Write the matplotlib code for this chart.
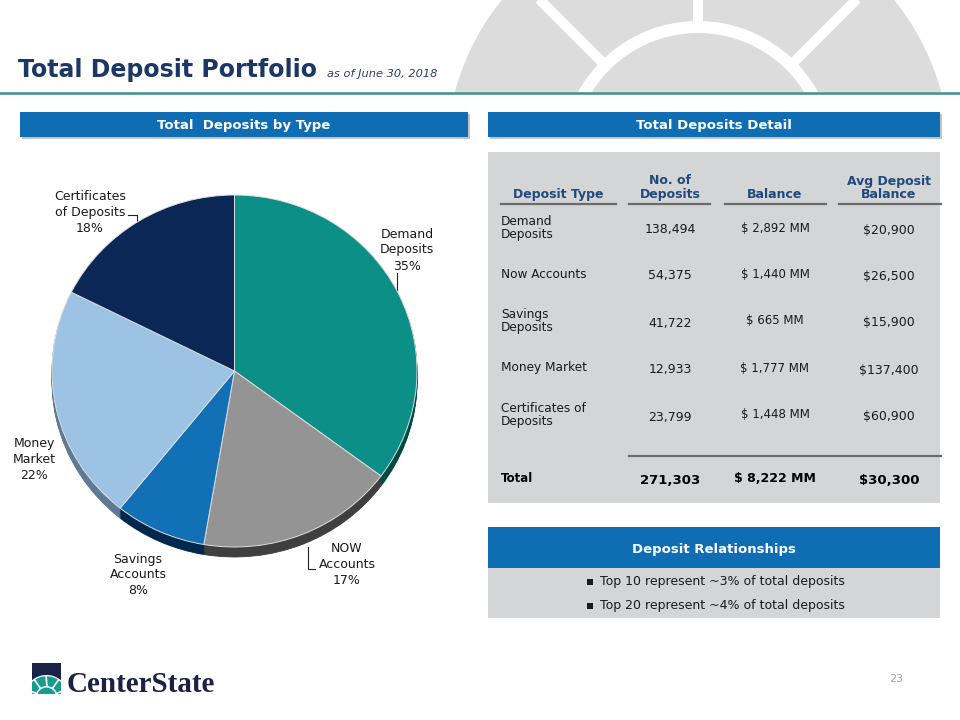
import matplotlib
matplotlib.use('Agg')
import matplotlib.pyplot as plt
from matplotlib.patches import Rectangle, Circle, Wedge
import numpy as np

W, H = 960, 720
plt.rcParams['font.family'] = ['DejaVu Sans']

# ---------------- data ----------------
pie_labels = ['Demand\nDeposits', 'NOW\nAccounts', 'Savings\nAccounts', 'Money\nMarket', 'Certificates\nof Deposits']
pie_pcts = [35, 17, 8, 22, 18]
balances_mm = [2892, 1440, 665, 1777, 1448]
pie_colors = ['#0b8f87', '#949494', '#1170b6', '#9cc3e3', '#0b2755']
side_colors = ['#004a45', '#3f3f3f', '#00284d', '#5f7a93', '#061634']

row_labels = ['Demand\nDeposits', 'Now Accounts', 'Savings\nDeposits', 'Money Market', 'Certificates of\nDeposits']
no_deposits = [138494, 54375, 41722, 12933, 23799]
avg_balance = [20900, 26500, 15900, 137400, 60900]
total_no = 271303
total_balance = 8222
total_avg = 30300
col_headers = ['Deposit Type', 'No. of\nDeposits', 'Balance', 'Avg Deposit\nBalance']
bullets = ['Top 10 represent ~3% of total deposits', 'Top 20 represent ~4% of total deposits']

NAVY = '#1c3766'
BLUE = '#0f6db3'
GRAYBOX = '#d4d5d7'
HDR = '#1f4a7c'

fig = plt.figure(figsize=(9.6, 7.2), dpi=100)
bg = fig.add_axes([0, 0, 1, 1])
bg.set_xlim(0, W)
bg.set_ylim(H, 0)
bg.axis('off')

# ---------------- decorative background ----------------
clip = Rectangle((0, 0), W, 92, transform=bg.transData)
outer = Circle((698, 158), 252, fc='#dcdcdd', ec='none', zorder=0)
bg.add_patch(outer)
outer.set_clip_path(clip)
ring = Wedge((698, 158), 137, 0, 360, width=12, fc='white', ec='none', zorder=0.5)
bg.add_patch(ring)
ring.set_clip_path(clip)
for ang in [45, 90, 135]:
    t = np.radians(ang)
    ln, = bg.plot([698 + 132 * np.cos(t), 698 + 270 * np.cos(t)],
                  [158 - 132 * np.sin(t), 158 - 270 * np.sin(t)],
                  color='white', lw=7.2, solid_capstyle='butt', zorder=0.6)
    ln.set_clip_path(clip)
bg.plot([0, W], [93, 93], color='#3b8e8c', lw=1.8, zorder=1)

# ---------------- title ----------------
bg.text(18, 77, 'Total Deposit Portfolio', fontsize=17, fontweight='bold',
        color=NAVY, va='baseline', ha='left')
bg.text(327, 77, 'as of June 30, 2018', fontsize=8.2, style='italic',
        color='#2a3f66', va='baseline', ha='left')


def header_bar(x0, x1, y0, y1, text, shadow=True):
    if shadow:
        bg.add_patch(Rectangle((x0 + 2, y0 + 2), x1 - x0, y1 - y0, fc='#c4c4c4', ec='none', zorder=1))
    bg.add_patch(Rectangle((x0, y0), x1 - x0, y1 - y0, fc=BLUE, ec='none', zorder=2))
    bg.text((x0 + x1) / 2, (y0 + y1) / 2 + 0.5, text, color='white', fontsize=9.5,
            fontweight='bold', ha='center', va='center', zorder=3)


header_bar(20, 468, 112, 137, 'Total  Deposits by Type')
header_bar(488, 940, 112, 137, 'Total Deposits Detail')

# ---------------- table ----------------
bg.add_patch(Rectangle((488, 152), 452, 351, fc=GRAYBOX, ec='none', zorder=1))
hdr_x = [558, 670, 775, 889]
hdr_lines = [(501, 616), (629, 710), (725, 826), (839, 941)]
for hx, txt, (l0, l1) in zip(hdr_x, col_headers, hdr_lines):
    bg.text(hx, 198, txt, color=HDR, fontsize=9, fontweight='bold', ha='center',
            va='baseline', linespacing=1.05, zorder=3)
    bg.plot([l0, l1], [203.5, 203.5], color='#6b6b6b', lw=1.6, zorder=3)

row_y = [230, 276, 323, 370, 417]
for y, lab, n, bal, avg in zip(row_y, row_labels, no_deposits, balances_mm, avg_balance):
    bg.text(501, y - 2, lab, fontsize=8.7, ha='left', va='center', color='#1a1a1a',
            linespacing=1.05, zorder=3)
    bg.text(670, y, f'{n:,}', fontsize=9, ha='center', va='center', color='#1a1a1a', zorder=3)
    bg.text(775, y - 2, f'$ {bal:,} MM', fontsize=8.5, ha='center', va='center', color='#1a1a1a', zorder=3)
    bg.text(889, y, f'${avg:,}', fontsize=9, ha='center', va='center', color='#1a1a1a', zorder=3)

bg.plot([629, 941], [456, 456], color='#6b6b6b', lw=1.6, zorder=3)
bg.text(501, 478, 'Total', fontsize=8.5, fontweight='bold', ha='left', va='center', color='black', zorder=3)
bg.text(670, 481, f'{total_no:,}', fontsize=9.5, fontweight='bold', ha='center', va='center', color='black', zorder=3)
bg.text(775, 478, f'$ {total_balance:,} MM', fontsize=9, fontweight='bold', ha='center', va='center', color='black', zorder=3)
bg.text(889, 481, f'${total_avg:,}', fontsize=9.5, fontweight='bold', ha='center', va='center', color='black', zorder=3)

# ---------------- deposit relationships ----------------
bg.add_patch(Rectangle((488, 527), 452, 41, fc=BLUE, ec='none', zorder=2))
bg.text(714, 549, 'Deposit Relationships', color='white', fontsize=9.5, fontweight='bold',
        ha='center', va='center', zorder=3)
bg.add_patch(Rectangle((488, 568), 452, 50, fc=GRAYBOX, ec='none', zorder=1))
for y, txt in zip([582, 606], bullets):
    bg.add_patch(Rectangle((587, y - 3), 6, 6, fc='#1a1a1a', ec='none', zorder=3))
    bg.text(600, y, txt, fontsize=9, ha='left', va='center', color='#1a1a1a', zorder=3)

# ---------------- page number ----------------
bg.text(896, 679, '23', color='#a6a6a6', fontsize=8, ha='center', va='center')

# ---------------- logo ----------------
logo_clip = Rectangle((32, 663), 29, 31, transform=bg.transData)
bg.add_patch(Rectangle((32, 663), 29, 31, fc='#1b2147', ec='none', zorder=2))
lc = (46.5, 697)
parts = [Wedge(lc, 22, 180, 360, fc='#169c8e', ec='none', zorder=2.2),
         Wedge(lc, 22, 180, 360, width=1.2, fc='white', ec='none', zorder=2.3),
         Wedge(lc, 11, 180, 360, width=1.5, fc='white', ec='none', zorder=2.3)]
for p in parts:
    bg.add_patch(p)
    p.set_clip_path(logo_clip)
for ang in [200, 235, 270, 305, 340]:
    t = np.radians(ang)
    ln, = bg.plot([lc[0] + 10 * np.cos(t), lc[0] + 22 * np.cos(t)],
                  [lc[1] + 10 * np.sin(t), lc[1] + 22 * np.sin(t)], color='white', lw=1.2,
                  zorder=2.4, solid_capstyle='butt')
    ln.set_clip_path(logo_clip)
bg.text(67, 692, 'CenterState', family='Liberation Serif', fontweight='bold', fontsize=21,
        color='#1b2147', ha='left', va='baseline')

# ---------------- pie ----------------
cx, cy, rx, ry = 234.5, 371, 182.5, 176
a, b = 1.1, 1.2
left = cx - a * rx
top = cy - b * ry
pax = fig.add_axes([left / W, 1 - (top + 2 * b * ry) / H, 2 * a * rx / W, 2 * b * ry / H])
depth = 10
for k in range(depth, 0, -1):
    wedges, _ = pax.pie(balances_mm, colors=side_colors, startangle=90, counterclock=False,
                        center=(0, -k / ry), radius=1, wedgeprops=dict(linewidth=0.6))
    for w_, c_ in zip(wedges, side_colors):
        w_.set_edgecolor(c_)
pax.pie(balances_mm, colors=pie_colors, startangle=90, counterclock=False,
        center=(0, 0), radius=1, wedgeprops=dict(linewidth=0.7, edgecolor='#dedede'))
pax.set_aspect('auto')
pax.set_xlim(-a, a)
pax.set_ylim(-b, b)
pax.axis('off')

# pie labels
label_pos = [(407, 250), (347, 565), (138, 575), (34, 460), (90, 212)]
for (lx, ly), lab, p in zip(label_pos, pie_labels, pie_pcts):
    fig.text(lx / W, 1 - ly / H, f'{lab}\n{p}%', fontsize=9, ha='center', va='center',
             color='#1a1a1a', linespacing=1.3)
# leader lines
bg.plot([397, 397], [273, 292], color='#222222', lw=0.8)
bg.plot([128, 137, 137], [215, 215, 222], color='#222222', lw=0.8)
bg.plot([308, 308, 315], [547, 569, 569], color='#222222', lw=0.8)

fig.savefig('out.png', dpi=100)
